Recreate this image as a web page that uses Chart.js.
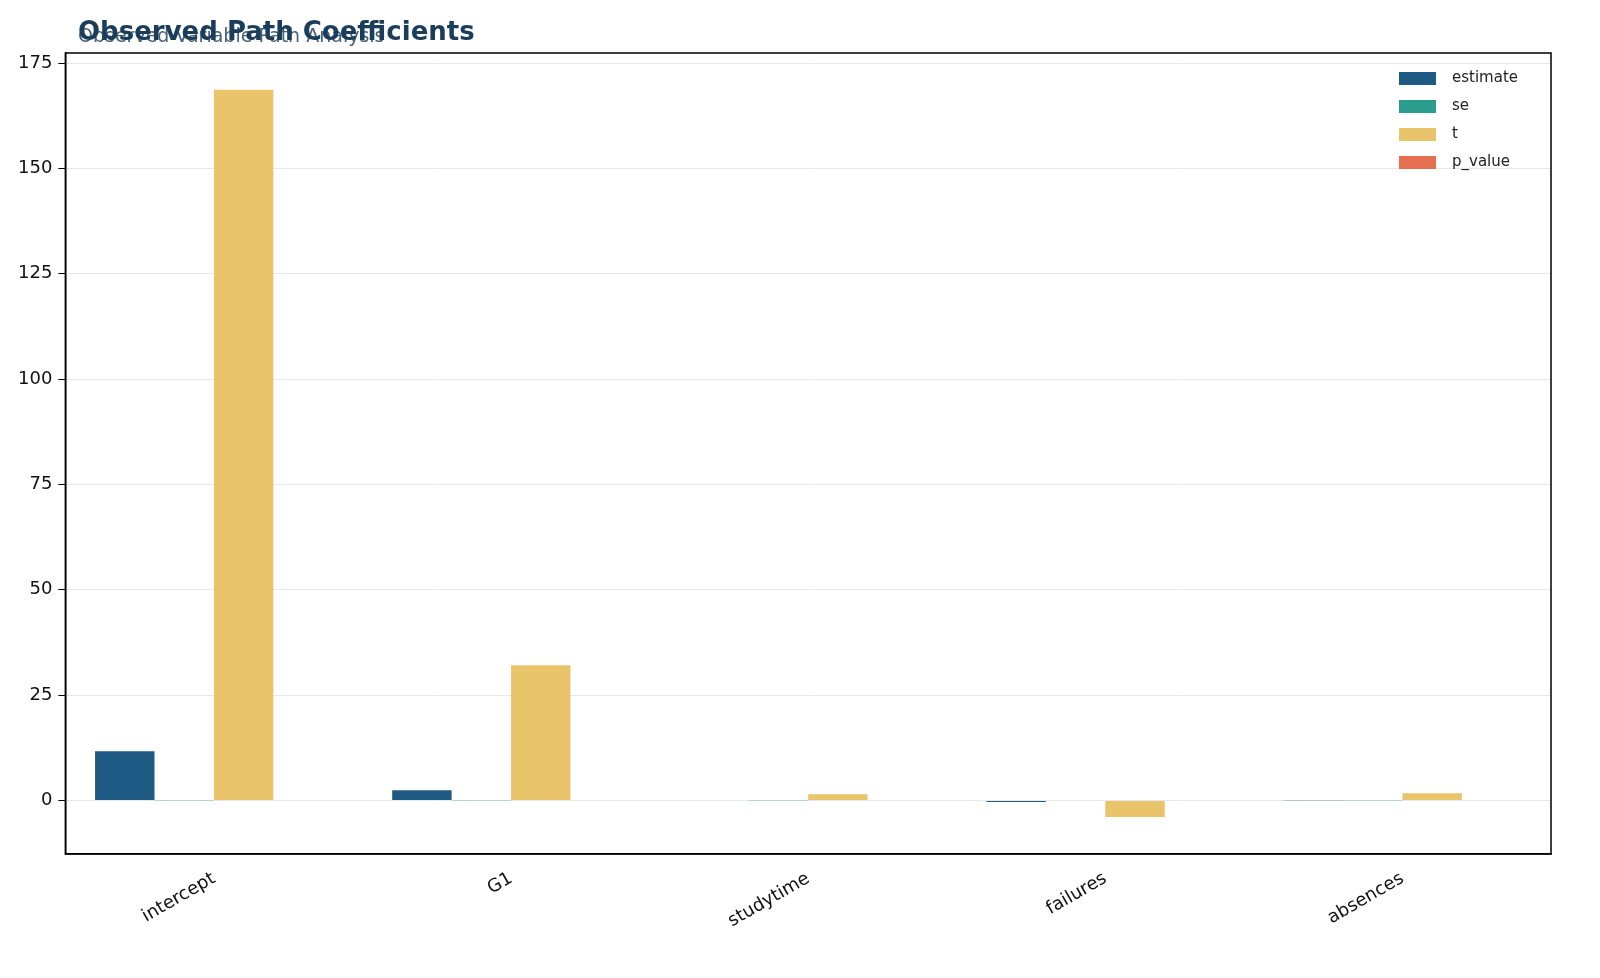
<!DOCTYPE html>
<html><head><meta charset="utf-8">
<script src="https://cdn.jsdelivr.net/npm/chart.js@4"></script>
<style>html,body{margin:0;padding:0;background:#fff;overflow:hidden}</style>
</head><body><canvas id="c" width="1600" height="978" style="width:1600px;height:978px;display:block"></canvas>
<script>
const categories = ["intercept","G1","studytime","failures","absences"];
const estimate = [11.7, 2.4, 0.12, -0.35, 0.05];
const se = [0.07, 0.075, 0.07, 0.09, 0.03];
const tval = [168.7, 32.1, 1.5, -3.9, 1.7];
const pValue = [0.0, 0.0, 0.13, 0.0, 0.09];
const seriesNames = ["estimate","se","t","p_value"];
const colors = ["#1f5a85","#2a9d8f","#e9c46a","#e76f51"];
const yTicks = [0,25,50,75,100,125,150,175];

const legendPlugin = {
  id:'lg',
  afterDraw(ch){
    const ctx=ch.ctx, a=ch.chartArea;
    ctx.save();
    ctx.font='15px "DejaVu Sans"';
    ctx.textBaseline='middle';
    seriesNames.forEach((n,i)=>{
      const y=a.top+25+i*28;
      ctx.fillStyle=colors[i];
      ctx.fillRect(a.right-152,y-6,37,13);
      ctx.fillStyle='#222';
      ctx.fillText(n,a.right-99,y);
    });
    ctx.textBaseline='alphabetic';
    ctx.fillStyle='#4a6276';
    ctx.font='19px "DejaVu Sans"';
    ctx.fillText('Observed Variable Path Analysis',78,42);
    ctx.font='bold 26px "DejaVu Sans"';
    ctx.fillStyle='#1a3d5c';
    ctx.fillText('Observed Path Coefficients',78,40);
    ctx.restore();
  }
};
const vals=[estimate,se,tval,pValue];
new Chart(document.getElementById('c'),{
  type:'bar',
  data:{labels:categories,datasets:seriesNames.map((n,i)=>({label:n,data:vals[i],backgroundColor:colors[i],categoryPercentage:0.8,barPercentage:1}))},
  options:{
    responsive:false,animation:false,devicePixelRatio:1,
    layout:{padding:{left:12,right:49,top:53,bottom:40}},
    plugins:{legend:{display:false},tooltip:{enabled:false}},
    scales:{
      x:{border:{color:'#000',width:1.5},grid:{display:false},
         ticks:{color:'#111',font:{size:18,family:'DejaVu Sans'},maxRotation:30,minRotation:30,padding:6}},
      y:{min:-12.7,max:177.4,border:{color:'#000',width:1.5},
         grid:{color:'#e8e8e8',tickColor:'#000',tickLength:7},
         afterBuildTicks(ax){ax.ticks=yTicks.map(v=>({value:v}));},
         ticks:{color:'#111',font:{size:18,family:'DejaVu Sans'},padding:6}}
    }
  },
  plugins:[legendPlugin,{id:'box',afterDraw(ch){const c=ch.ctx,a=ch.chartArea;c.save();c.strokeStyle='#000';c.lineWidth=1.5;c.strokeRect(a.left,a.top,a.right-a.left,a.bottom-a.top);c.restore();}}]
});
</script></body></html>
